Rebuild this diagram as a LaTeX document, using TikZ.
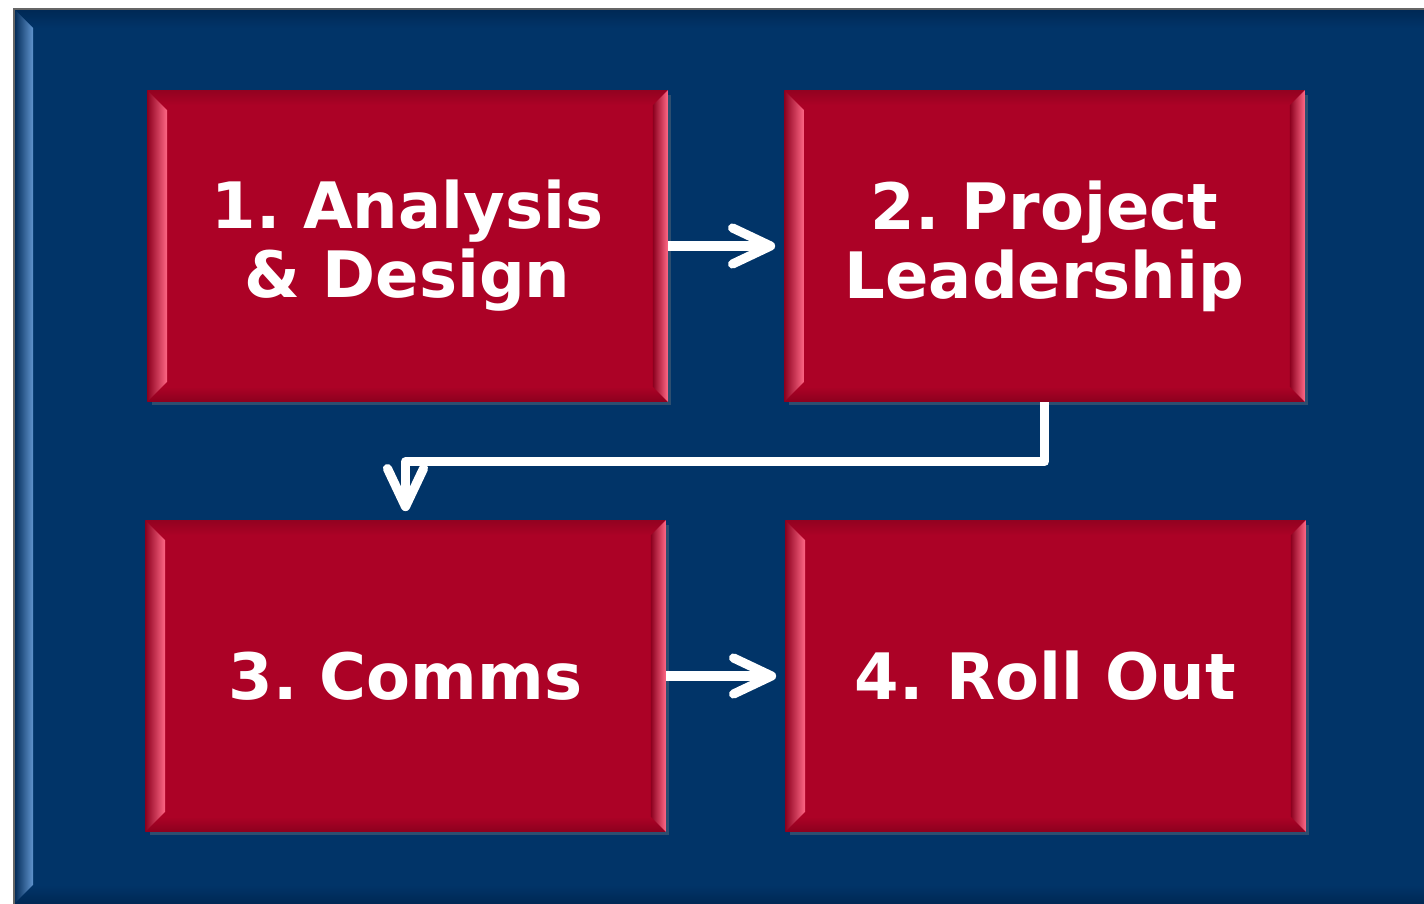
\documentclass[tikz,border=0pt]{standalone}
\usepackage{fontspec}
\usepackage{xcolor}
\usepackage{tikz}
\usetikzlibrary{positioning,arrows.meta,calc,shadows}
\newfontfamily\labelfont{DejaVu Sans}
\frenchspacing
\definecolor{panelblue}{RGB}{1,52,104}
\definecolor{panellight}{RGB}{96,148,206}
\definecolor{paneldark}{RGB}{0,40,84}
\definecolor{stagered}{RGB}{172,2,38}
\definecolor{stagelight}{RGB}{255,104,134}
\definecolor{stagedark}{RGB}{140,0,30}

\begin{document}
\begin{tikzpicture}[x=0.01cm,y=-0.01cm,
		stage/.style={fill=stagered,minimum width=5.19cm,minimum height=3.1cm,inner sep=0pt,
			align=center,text=white,font=\labelfont\bfseries\fontsize{18.2}{19.6}\selectfont,
			drop shadow={shadow xshift=1.2pt,shadow yshift=-1.2pt,opacity=0.35}},
		flow/.style={draw=white,line width=2.6pt,line join=round,shorten >=0.09cm,
			-{Straight Barb[length=0.38cm,width=0.36cm,round]}}]
		\useasboundingbox (0,0) rectangle (1424,904);
		\fill[white] (0,0) rectangle (1424,904);
		\fill[panelblue] (14,9) rectangle (1424,904);
		\shade[top color=paneldark,bottom color=panelblue] (14,9) -- (1424,9) -- (1424,28) -- (33,28) -- cycle;
		\shade[top color=panelblue,bottom color=paneldark] (14,904) -- (33,885) -- (1424,885) -- (1424,904) -- cycle;
		\shade[left color=paneldark,right color=panellight] (14,9) -- (33,28) -- (33,885) -- (14,904) -- cycle;
		\draw[black!60,line width=0.4pt] (14,904) -- (14,9) -- (1424,9);
		\node[stage] (p1) at (407.5,246) {1. Analysis\\\& Design};
		\node[stage] (p2) at (1044.5,246) {2. Project\\Leadership};
		\node[stage] (p3) at (405.5,676) {3. Comms};
		\node[stage] (p4) at (1045.5,676) {4. Roll Out};
		\foreach \s in {p1,p2,p3,p4}{
			\shade[top color=stagered!85!black,bottom color=stagered] (\s.north west) -- (\s.north east) -- ($(\s.north east)+(-15,15)$) -- ($(\s.north west)+(15,15)$) -- cycle;
			\shade[top color=stagered,bottom color=stagedark] (\s.south west) -- (\s.south east) -- ($(\s.south east)+(-15,-15)$) -- ($(\s.south west)+(15,-15)$) -- cycle;
			\shade[left color=stagedark,right color=stagelight] (\s.north west) -- ($(\s.north west)+(20,20)$) -- ($(\s.south west)+(20,-20)$) -- (\s.south west) -- cycle;
			\shade[left color=stagedark,right color=stagelight] (\s.north east) -- ($(\s.north east)+(-15,15)$) -- ($(\s.south east)+(-15,-15)$) -- (\s.south east) -- cycle;
		}
		\draw[flow] (p1.east) -- (p2.west);
		\draw[flow] (p3.east) -- (p4.west);
		\draw[flow] (p2.south) -- ++(0,60) -| (p3.north);
	\end{tikzpicture}
\end{document}
